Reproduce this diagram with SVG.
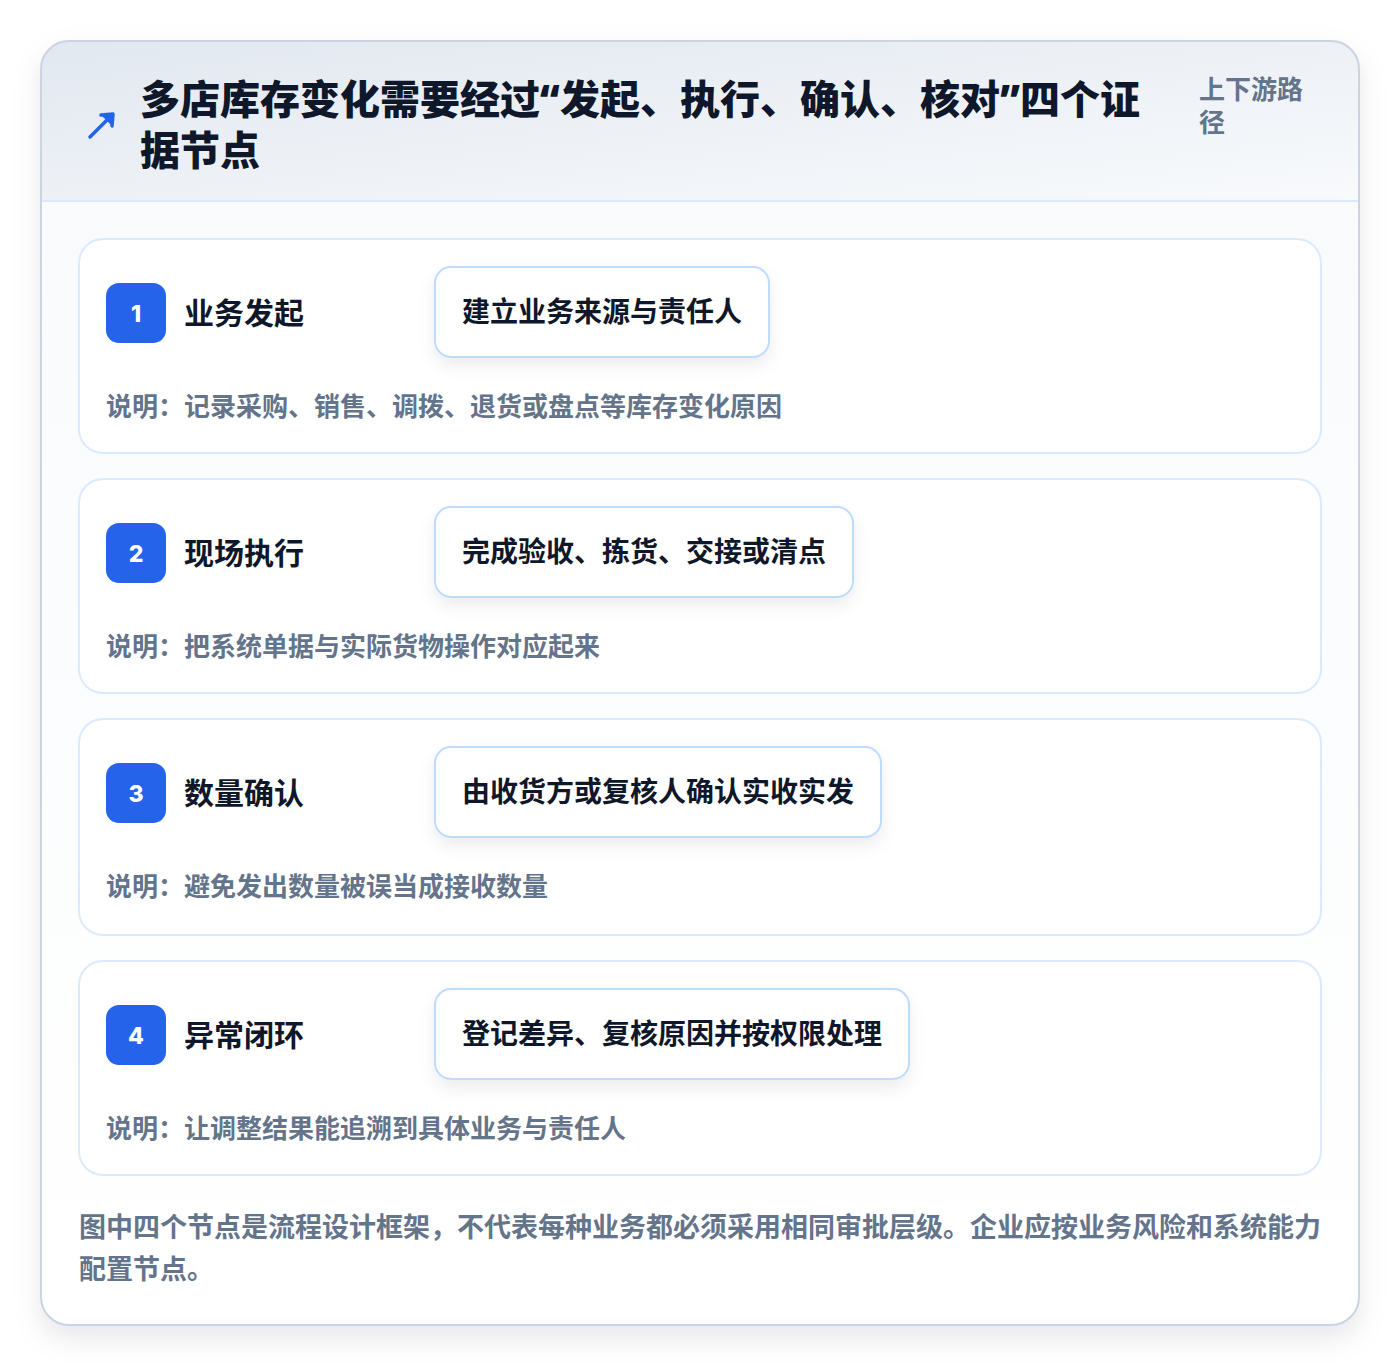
<svg xmlns="http://www.w3.org/2000/svg" width="1400" height="1366" viewBox="0 0 1400 1366">
<defs>
<style>
text{font-family:"Noto Sans CJK SC","Noto Sans",sans-serif;font-weight:700}
.title{font-size:40px;fill:#0f172a;font-weight:900}
.q{font-family:"Noto Sans","Liberation Sans",sans-serif;font-weight:900}
.side{font-size:26px;fill:#64748b}
.card{fill:#ffffff;stroke:#dbeafe;stroke-width:2}
.badge{fill:#2563eb}
.num{font-size:23px;fill:#ffffff;text-anchor:middle;font-family:"Inter","Noto Sans",sans-serif;font-weight:800}
.label{font-size:30px;fill:#0f172a}
.box{fill:#ffffff;stroke:#bfdbfe;stroke-width:2}
.boxt{font-size:28px;fill:#0f172a}
.desc{font-size:26px;fill:#64748b}
.foot{font-size:27px;fill:#64748b}
</style>
<linearGradient id="hdr" x1="0" y1="0" x2="1" y2="1">
<stop offset="0" stop-color="#e2e8f0"/>
<stop offset="1" stop-color="#f8fafc"/>
</linearGradient>
<linearGradient id="body" x1="0" y1="0" x2="0" y2="1">
<stop offset="0" stop-color="#f8fafc"/>
<stop offset="1" stop-color="#ffffff"/>
</linearGradient>
<filter id="sh" x="-10%" y="-10%" width="120%" height="120%">
<feDropShadow dx="0" dy="12" stdDeviation="14" flood-color="#0f172a" flood-opacity="0.10"/>
</filter>
<filter id="bsh" x="-20%" y="-30%" width="140%" height="170%">
<feDropShadow dx="0" dy="8" stdDeviation="8" flood-color="#0f172a" flood-opacity="0.07"/>
</filter>
<clipPath id="outer"><rect x="41" y="41" width="1318" height="1284" rx="28"/></clipPath>
</defs>
<rect width="1400" height="1366" fill="#ffffff"/>
<g id="frame">
<rect x="41" y="41" width="1318" height="1284" rx="28" fill="url(#body)" filter="url(#sh)"/>
<g clip-path="url(#outer)">
<rect x="41" y="41" width="1318" height="160" fill="url(#hdr)"/>
<line x1="41" y1="201" x2="1359" y2="201" stroke="#dbeafe" stroke-width="2"/>
</g>
<rect x="41" y="41" width="1318" height="1284" rx="28" fill="none" stroke="#cbd5e1" stroke-width="2"/>
</g>
<g id="header">
<g id="icon" stroke="#2563eb" stroke-width="3.5" stroke-linecap="round" fill="none">
<line x1="90" y1="137" x2="112" y2="115"/>
<polyline points="101,115 113,114 112,126" stroke-linejoin="round" fill="#2563eb"/>
</g>
<text class="title" x="140" y="114">多店库存变化需要经过<tspan class="q">“</tspan>发起、执行、确认、核对<tspan class="q">”</tspan>四个证</text>
<text class="title" x="140" y="165">据节点</text>
<text class="side" x="1199" y="99">上下游路</text>
<text class="side" x="1199" y="132">径</text>
</g>
<g id="step1">
<rect class="card" x="79" y="239" width="1242" height="214" rx="24"/>
<rect class="badge" x="106" y="283" width="60" height="60" rx="13"/>
<text class="num" x="136" y="322">1</text>
<text class="label" x="184" y="324">业务发起</text>
<rect class="box" x="435" y="267" width="334" height="90" rx="16" filter="url(#bsh)"/>
<text class="boxt" x="462" y="322">建立业务来源与责任人</text>
<text class="desc" x="106" y="416">说明：记录采购、销售、调拨、退货或盘点等库存变化原因</text>
</g>
<g id="step2">
<rect class="card" x="79" y="479" width="1242" height="214" rx="24"/>
<rect class="badge" x="106" y="523" width="60" height="60" rx="13"/>
<text class="num" x="136" y="562">2</text>
<text class="label" x="184" y="564">现场执行</text>
<rect class="box" x="435" y="507" width="418" height="90" rx="16" filter="url(#bsh)"/>
<text class="boxt" x="462" y="562">完成验收、拣货、交接或清点</text>
<text class="desc" x="106" y="656">说明：把系统单据与实际货物操作对应起来</text>
</g>
<g id="step3">
<rect class="card" x="79" y="719" width="1242" height="216" rx="24"/>
<rect class="badge" x="106" y="763" width="60" height="60" rx="13"/>
<text class="num" x="136" y="802">3</text>
<text class="label" x="184" y="804">数量确认</text>
<rect class="box" x="435" y="747" width="446" height="90" rx="16" filter="url(#bsh)"/>
<text class="boxt" x="462" y="802">由收货方或复核人确认实收实发</text>
<text class="desc" x="106" y="896">说明：避免发出数量被误当成接收数量</text>
</g>
<g id="step4">
<rect class="card" x="79" y="961" width="1242" height="214" rx="24"/>
<rect class="badge" x="106" y="1005" width="60" height="60" rx="13"/>
<text class="num" x="136" y="1044">4</text>
<text class="label" x="184" y="1046">异常闭环</text>
<rect class="box" x="435" y="989" width="474" height="90" rx="16" filter="url(#bsh)"/>
<text class="boxt" x="462" y="1044">登记差异、复核原因并按权限处理</text>
<text class="desc" x="106" y="1138">说明：让调整结果能追溯到具体业务与责任人</text>
</g>
<g id="connectors"></g>
<g id="footer">
<text class="foot" x="79" y="1237">图中四个节点是流程设计框架，不代表每种业务都必须采用相同审批层级。企业应按业务风险和系统能力</text>
<text class="foot" x="79" y="1279">配置节点。</text>
</g>
</svg>
